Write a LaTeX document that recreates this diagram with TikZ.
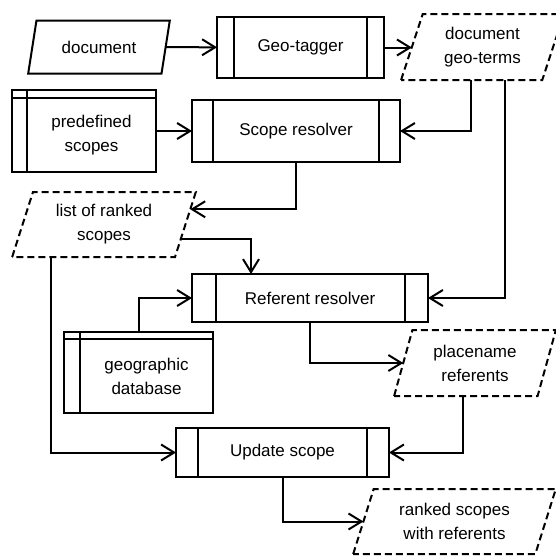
\documentclass[tikz,border=0pt]{standalone}
\usepackage{fontspec}
\setmainfont{Liberation Sans}
\usetikzlibrary{shapes.geometric,arrows.meta}
\begin{document}
\begin{tikzpicture}[x=1pt,y=-1pt,line width=2pt,
  every node/.style={outer sep=0pt,inner sep=0pt,align=center,font=\fontsize{17}{24}\selectfont},
  proc/.style={draw,rectangle},
  store/.style={draw,rectangle},
  io/.style={draw,trapezium,trapezium stretches=true},
  dataio/.style={io,dash pattern=on 7pt off 4pt},
  arr/.style={-{Straight Barb[length=13pt,width=16pt]}},
]
\useasboundingbox (0,0) rectangle (556,557);

% inputs / outputs
\node[io,trapezium left angle=68.4,trapezium right angle=111.6,minimum width=142,minimum height=53] (doc) at (99,47) {document};
\node[dataio,trapezium left angle=70.8,trapezium right angle=109.2,minimum width=163,minimum height=66] (terms) at (482.5,47) {document\\geo-terms};
\node[dataio,trapezium left angle=70.5,trapezium right angle=109.5,minimum width=184,minimum height=65] (lst) at (104,224.5) {list of ranked\\scopes};
\node[dataio,trapezium left angle=71.6,trapezium right angle=108.4,minimum width=162,minimum height=66] (place) at (475,363) {placename\\referents};
\node[dataio,trapezium left angle=69,trapezium right angle=111,minimum width=203,minimum height=65] (rk) at (454.5,521.5) {ranked scopes\\with referents};

% processes
\node[proc,minimum width=167,minimum height=61] (gt) at (300.5,47.5) {Geo-tagger};
\node[proc,minimum width=208,minimum height=62] (sr) at (296,131) {Scope resolver};
\node[proc,minimum width=236,minimum height=48] (rr) at (310,298) {Referent resolver};
\node[proc,minimum width=213,minimum height=49] (us) at (282.5,452.5) {Update scope};

\foreach \n/\b in {gt/17,sr/21,rr/23.5,us/22}{
  \draw ([xshift=\b pt]\n.north west) -- ([xshift=\b pt]\n.south west);
  \draw ([xshift=-\b pt]\n.north east) -- ([xshift=-\b pt]\n.south east);
}

% stores
\node[store,minimum width=144,minimum height=82] (pre) at (84,131) {};
\node (pretext) at ([xshift=7.5pt,yshift=-4pt]pre.center) {predefined\\scopes};
\node[store,minimum width=149,minimum height=81] (db) at (138.5,372.5) {};
\node (dbtext) at ([xshift=8pt,yshift=-3.5pt]db.center) {geographic\\database};
\draw ([yshift=-8pt]pre.north west) -- ([yshift=-8pt]pre.north east);
\draw ([xshift=15pt]pre.north west) -- ([xshift=15pt]pre.south west);
\draw ([yshift=-7pt]db.north west) -- ([yshift=-7pt]db.north east);
\draw ([xshift=16pt]db.north west) -- ([xshift=16pt]db.south west);

% connectors
\draw[arr] (doc) -- (gt);
\draw[arr] (gt.east) -- (gt.east -| terms.180);
\draw[arr] (pre) -- (sr);
\draw[arr] ([xshift=-11.5pt]terms.south) |- (sr.east);
\draw[arr] ([xshift=22.5pt]terms.south) |- (rr.east);
\draw[arr] (sr.south) |- (lst.10.8);
\draw[arr] (lst.-11.75) -| ([xshift=-59pt]rr.north);
\draw[arr] ([xshift=-53pt]lst.south) |- (us.west);
\draw[arr] (db.north) |- (rr.west);
\draw[arr] (rr.south) |- (place.180);
\draw[arr] ([xshift=-12pt]place.south) |- (us.east);
\draw[arr] (us.south) |- (rk.180);
\end{tikzpicture}
\end{document}
